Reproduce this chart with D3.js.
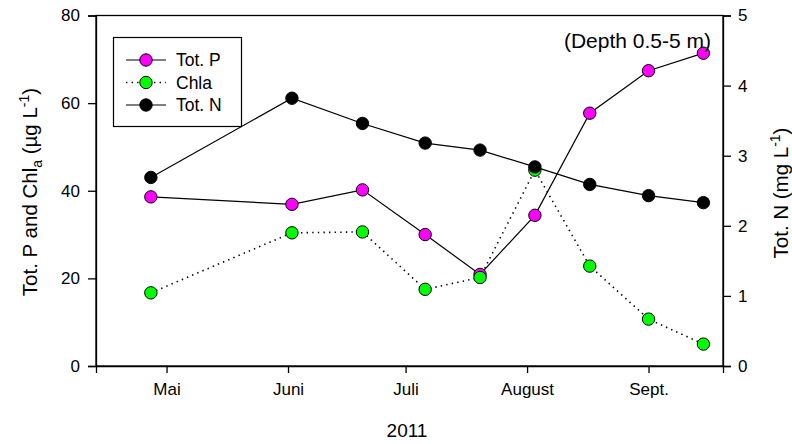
<!DOCTYPE html>
<html><head><meta charset="utf-8">
<script src="https://cdn.jsdelivr.net/npm/d3@7"></script>
<style>body{margin:0;background:#fff}svg{display:block}text{font-family:"Liberation Sans",Arial,sans-serif;fill:#000}</style>
</head><body><svg id="c" width="792" height="444"></svg>
<script>
const dates = ["2011-04-27","2011-06-02","2011-06-20","2011-07-06","2011-07-20","2011-08-03","2011-08-17","2011-09-01","2011-09-15"];
const totP = [38.6, 36.9, 40.2, 30.0, 20.9, 34.4, 57.7, 67.4, 71.4];
const chla = [16.7, 30.4, 30.6, 17.5, 20.2, 44.7, 22.8, 10.7, 5.0];
const totN = [2.69, 3.82, 3.46, 3.18, 3.08, 2.84, 2.59, 2.43, 2.33];
const monthTicks = ["2011-05-01","2011-06-01","2011-07-01","2011-08-01","2011-09-01"];
const monthLabels = ["Mai","Juni","Juli","August","Sept."];
const leftTicks = [0,20,40,60,80];
const rightTicks = [0,1,2,3,4,5];

const svg = d3.select("#c");
const L=96, R=723, T=15.5, B=366;
const x = d3.scaleUtc().domain([new Date("2011-04-13"), new Date("2011-09-20")]).range([L,R]);
const yL = d3.scaleLinear().domain([0,80]).range([B,T]);
const yR = d3.scaleLinear().domain([0,5]).range([B,T]);
const pd = dates.map(d=>new Date(d));

// frame
svg.append("rect").attr("x",L).attr("y",T).attr("width",R-L).attr("height",B-T)
  .attr("fill","none").attr("stroke","#000").attr("stroke-width",1.3);

const fs=17;
const gx = svg.append("g").attr("transform",`translate(0,${B})`)
  .call(d3.axisBottom(x).tickValues(monthTicks.map(d=>new Date(d))).tickFormat((d,i)=>monthLabels[i]).tickSize(7).tickPadding(10));
const gl = svg.append("g").attr("transform",`translate(${L},0)`)
  .call(d3.axisLeft(yL).tickValues(leftTicks).tickFormat(d3.format("d")).tickSize(8).tickPadding(8));
const gr = svg.append("g").attr("transform",`translate(${R},0)`)
  .call(d3.axisRight(yR).tickValues(rightTicks).tickFormat(d3.format("d")).tickSize(8).tickPadding(7));
[gx,gl,gr].forEach(g=>{
  g.select(".domain").attr("stroke","#000").attr("stroke-width",1.3);
  g.selectAll(".tick line").attr("stroke","#000").attr("stroke-width",1.3);
  g.selectAll(".tick text").attr("font-size",fs).attr("font-family","Liberation Sans, Arial, sans-serif").attr("fill","#000");
});

function series(vals, y, color, dash){
  const line = d3.line().x((d,i)=>x(pd[i])).y(d=>y(d));
  svg.append("path").attr("d",line(vals)).attr("fill","none").attr("stroke","#000")
    .attr("stroke-width",dash?1.6:1.2).attr("stroke-dasharray",dash?"1.4,4.2":null);
  svg.append("g").selectAll("circle").data(vals).join("circle")
    .attr("cx",(d,i)=>x(pd[i])).attr("cy",d=>y(d)).attr("r",6.2)
    .attr("fill",color).attr("stroke","#000").attr("stroke-width",1);
}
series(totP, yL, "#ff00ff", false);
series(chla, yL, "#00ff00", true);
series(totN, yR, "#000000", false);

// legend
const lg = svg.append("g");
lg.append("rect").attr("x",113.5).attr("y",37.5).attr("width",128).attr("height",89)
  .attr("fill","#fff").attr("stroke","#000").attr("stroke-width",1.2);
const legItems=[["Tot. P","#ff00ff",false],["Chla","#00ff00",true],["Tot. N","#000",false]];
legItems.forEach((it,i)=>{
  const yy = 60 + i*22.5;
  lg.append("line").attr("x1",126).attr("x2",166).attr("y1",yy).attr("y2",yy)
    .attr("stroke","#000").attr("stroke-width",it[2]?1.6:1.2).attr("stroke-dasharray",it[2]?"1.4,4.2":null);
  lg.append("circle").attr("cx",146).attr("cy",yy).attr("r",6.2).attr("fill",it[1]).attr("stroke","#000");
  lg.append("text").attr("x",176).attr("y",yy+6).attr("font-size",17.5).text(it[0]);
});

svg.append("text").attr("x",711).attr("y",48).attr("text-anchor","end").attr("font-size",21).text("(Depth 0.5-5 m)");
svg.append("text").attr("x",407).attr("y",437).attr("text-anchor","middle").attr("font-size",19).text("2011");

const lt = svg.append("text").attr("transform","translate(37,192) rotate(-90)").attr("text-anchor","middle").attr("font-size",20.5);
lt.append("tspan").text("Tot. P and Chl");
lt.append("tspan").attr("font-size",14).attr("dy",5).text("a");
lt.append("tspan").attr("dy",-5).text(" (µg L");
lt.append("tspan").attr("font-size",14).attr("dy",-8).text("-1");
lt.append("tspan").attr("dy",8).text(")");

const rt = svg.append("text").attr("transform","translate(788,193) rotate(-90)").attr("text-anchor","middle").attr("font-size",20.5);
rt.append("tspan").text("Tot. N (mg L");
rt.append("tspan").attr("font-size",14).attr("dy",-8).text("-1");
rt.append("tspan").attr("dy",8).text(")");
</script></body></html>
